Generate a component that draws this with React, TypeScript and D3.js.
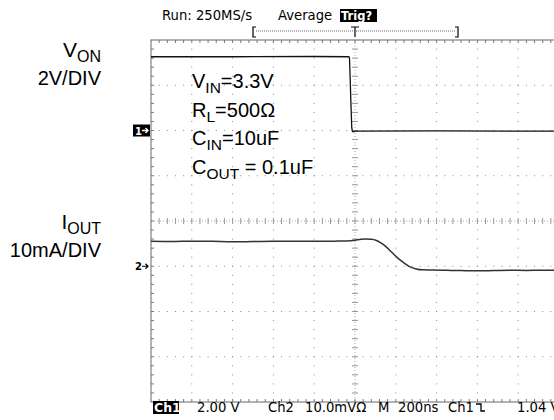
import React, { useEffect, useRef } from "react";
import * as d3 from "d3";

// scope capture: Ch1 = V_ON (2V/div), Ch2 = I_OUT (10mA/div), 200ns/div
const ch1Time = [-1000, -600, -200, -30, -27, -24, -20, -16, -13, -8, 0, 400, 1000];
const ch1Volts = [3.26, 3.26, 3.27, 3.26, 3.2, 2.4, 1.2, 0.15, -0.04, -0.06, -0.03, -0.02, -0.03];

const ch2Time = [-1000, -900, -800, -700, -600, -500, -400, -300, -200, -100, -40, 0, 30, 50, 80, 105, 125, 150, 180, 210, 240, 270, 300, 330, 380, 450, 520, 600, 680, 760, 840, 920, 1000];
const ch2mA = [5.5, 5.45, 5.55, 5.5, 5.4, 5.45, 5.5, 5.55, 5.5, 5.55, 5.6, 5.75, 5.95, 6.0, 5.95, 5.7, 5.2, 4.4, 3.1, 1.8, 0.75, -0.15, -0.6, -0.8, -0.85, -0.9, -0.95, -1.0, -0.95, -0.9, -0.92, -0.88, -0.9];

const conditions = [
  { main: "V", sub: "IN", rest: "=3.3V" },
  { main: "R", sub: "L", rest: "=500Ω" },
  { main: "C", sub: "IN", rest: "=10uF" },
  { main: "C", sub: "OUT", rest: " = 0.1uF" }
];

const W = 554;
const H = 420;

export default function App() {
  const ref = useRef<SVGSVGElement>(null);

  useEffect(() => {
    const svg = d3.select(ref.current);
    svg.selectAll("*").remove();

    const xDiv = d3.scaleLinear().domain([0, 10]).range([151, 559]);
    const yDiv = d3.scaleLinear().domain([0, 8]).range([40, 402]);
    const t = d3.scaleLinear().domain([-1000, 1000]).range([151, 559]);
    const v1 = d3.scaleLinear().domain([0, 2]).range([yDiv(2), yDiv(1)]);
    const i2 = d3.scaleLinear().domain([0, 10]).range([yDiv(5), yDiv(4)]);

    const grid = svg.append("g");
    const dotColor = "#8a8a8a";

    // dotted graticule
    d3.range(1, 10).filter(i => i !== 5).forEach(i => {
      grid.selectAll(null)
        .data(d3.range(1, 40))
        .enter()
        .append("rect")
        .attr("x", xDiv(i) - 0.5)
        .attr("y", d => yDiv(d / 5) - 0.5)
        .attr("width", 1)
        .attr("height", 1)
        .attr("fill", dotColor);
    });
    d3.range(1, 8).filter(j => j !== 4).forEach(j => {
      grid.selectAll(null)
        .data(d3.range(1, 50))
        .enter()
        .append("rect")
        .attr("x", d => xDiv(d / 5) - 0.5)
        .attr("y", yDiv(j) - 0.5)
        .attr("width", 1)
        .attr("height", 1)
        .attr("fill", dotColor);
    });

    // center cross with minor ticks
    grid.append("line")
      .attr("x1", xDiv(0)).attr("x2", xDiv(10))
      .attr("y1", yDiv(4)).attr("y2", yDiv(4))
      .attr("stroke", "#aaa").attr("stroke-dasharray", "1,2");
    grid.append("line")
      .attr("x1", xDiv(5)).attr("x2", xDiv(5))
      .attr("y1", yDiv(0)).attr("y2", yDiv(8))
      .attr("stroke", "#aaa").attr("stroke-dasharray", "1,2");
    grid.selectAll(null)
      .data(d3.range(1, 50))
      .enter()
      .append("line")
      .attr("x1", d => xDiv(d / 5)).attr("x2", d => xDiv(d / 5))
      .attr("y1", yDiv(4) - 3).attr("y2", yDiv(4) + 3)
      .attr("stroke", "#999");
    grid.selectAll(null)
      .data(d3.range(1, 40))
      .enter()
      .append("line")
      .attr("x1", xDiv(5) - 3).attr("x2", xDiv(5) + 3)
      .attr("y1", d => yDiv(d / 5)).attr("y2", d => yDiv(d / 5))
      .attr("stroke", "#999");

    // frame + edge ticks
    grid.append("rect")
      .attr("x", xDiv(0)).attr("y", yDiv(0))
      .attr("width", xDiv(10) - xDiv(0)).attr("height", yDiv(8) - yDiv(0))
      .attr("fill", "none").attr("stroke", "#666");
    grid.selectAll(null)
      .data(d3.range(1, 50))
      .enter()
      .append("path")
      .attr("d", d => `M${xDiv(d / 5)},${yDiv(0)}v3M${xDiv(d / 5)},${yDiv(8)}v-3`)
      .attr("stroke", "#777");
    grid.selectAll(null)
      .data(d3.range(1, 40))
      .enter()
      .append("path")
      .attr("d", d => `M${xDiv(0)},${yDiv(d / 5)}h3`)
      .attr("stroke", "#777");

    // traces
    const line1 = d3.line<number>().x((d, k) => t(ch1Time[k])).y(d => v1(d));
    svg.append("path")
      .attr("d", line1(ch1Volts))
      .attr("fill", "none")
      .attr("stroke", "#111")
      .attr("stroke-width", 1.3);
    const line2 = d3.line<number>().x((d, k) => t(ch2Time[k])).y(d => i2(d)).curve(d3.curveMonotoneX);
    svg.append("path")
      .attr("d", line2(ch2mA))
      .attr("fill", "none")
      .attr("stroke", "#333")
      .attr("stroke-width", 1.5);

    // channel ground markers
    svg.append("rect")
      .attr("x", 133).attr("y", v1(0) - 6).attr("width", 17).attr("height", 12)
      .attr("fill", "#000");
    svg.append("text")
      .attr("x", 135).attr("y", v1(0) + 4)
      .attr("font-family", "DejaVu Sans").attr("font-size", 10).attr("font-weight", "bold")
      .attr("fill", "#fff").text("1");
    svg.append("path")
      .attr("d", `M142,${v1(0)}h6M145.5,${v1(0) - 2.5}l2.5,2.5l-2.5,2.5`)
      .attr("fill", "none").attr("stroke", "#fff").attr("stroke-width", 1.4);
    svg.append("text")
      .attr("x", 135).attr("y", i2(0) + 4)
      .attr("font-family", "DejaVu Sans").attr("font-size", 10).attr("font-weight", "bold")
      .attr("fill", "#000").text("2");
    svg.append("path")
      .attr("d", `M142,${i2(0)}h6M145.5,${i2(0) - 2.5}l2.5,2.5l-2.5,2.5`)
      .attr("fill", "none").attr("stroke", "#000").attr("stroke-width", 1.2);

    const scopeFont = (s: any) =>
      s.attr("font-family", "DejaVu Sans").attr("font-size", 13.2).attr("fill", "#000");

    // top status line
    scopeFont(svg.append("text").attr("x", 162).attr("y", 20).text("Run: 250MS/s"));
    scopeFont(svg.append("text").attr("x", 278).attr("y", 20).text("Average"));
    svg.append("rect").attr("x", 340).attr("y", 9).attr("width", 37).attr("height", 13).attr("fill", "#000");
    scopeFont(svg.append("text").attr("x", 341).attr("y", 20).text("Trig?"))
      .attr("fill", "#fff").attr("font-weight", "bold").attr("font-size", 11.5);

    // record bracket with trigger mark
    svg.append("path")
      .attr("d", "M256,27H253V37H256M455,27H458V37H455M351,27H359M355,27V37")
      .attr("fill", "none").attr("stroke", "#000").attr("stroke-width", 1.2);
    svg.append("line")
      .attr("x1", 256).attr("x2", 455).attr("y1", 31).attr("y2", 31)
      .attr("stroke", "#666").attr("stroke-dasharray", "1,1");

    // bottom status line
    svg.append("rect").attr("x", 153).attr("y", 401).attr("width", 26).attr("height", 13).attr("fill", "#000");
    scopeFont(svg.append("text").attr("x", 154).attr("y", 412).text("Ch1"))
      .attr("fill", "#fff").attr("font-weight", "bold").attr("font-size", 12.5);
    scopeFont(svg.append("text").attr("x", 197).attr("y", 412).text("2.00 V"));
    scopeFont(svg.append("text").attr("x", 268).attr("y", 412).text("Ch2"));
    scopeFont(svg.append("text").attr("x", 305).attr("y", 412).text("10.0mVΩ"));
    scopeFont(svg.append("text").attr("x", 378).attr("y", 412).text("M"));
    scopeFont(svg.append("text").attr("x", 398).attr("y", 412).text("200ns"));
    scopeFont(svg.append("text").attr("x", 448).attr("y", 412).text("Ch1"));
    svg.append("path")
      .attr("d", "M476,404H481V411H485")
      .attr("fill", "none").attr("stroke", "#000").attr("stroke-width", 1.3);
    scopeFont(svg.append("text").attr("x", 517).attr("y", 412).text("1.04 V"));

    // channel labels on the left
    const label = (y: number, main: string, sub: string, scale: string) => {
      const g = svg.append("g")
        .attr("font-family", "Liberation Sans, Arial, sans-serif")
        .attr("fill", "#000")
        .attr("text-anchor", "end");
      const tx = g.append("text").attr("x", 101).attr("y", y).attr("font-size", 21);
      tx.append("tspan").text(main);
      tx.append("tspan").attr("font-size", 16).attr("dy", 5).text(sub);
      g.append("text").attr("x", 101).attr("y", y + 28).attr("font-size", 20).text(scale);
    };
    label(57, "V", "ON", "2V/DIV");
    label(229, "I", "OUT", "10mA/DIV");

    // test conditions
    const cond = svg.append("g")
      .attr("font-family", "Liberation Sans, Arial, sans-serif")
      .attr("fill", "#000");
    conditions.forEach((c, k) => {
      const tx = cond.append("text").attr("x", 192).attr("y", 88 + k * 28.5).attr("font-size", 20);
      tx.append("tspan").text(c.main);
      tx.append("tspan").attr("font-size", 15.5).attr("dy", 5).text(c.sub);
      tx.append("tspan").attr("dy", -5).text(c.rest);
    });
  }, []);

  return (
    <svg
      ref={ref}
      width={W}
      height={H}
      style={{ position: "absolute", left: 0, top: 0, background: "#fff" }}
    />
  );
}
